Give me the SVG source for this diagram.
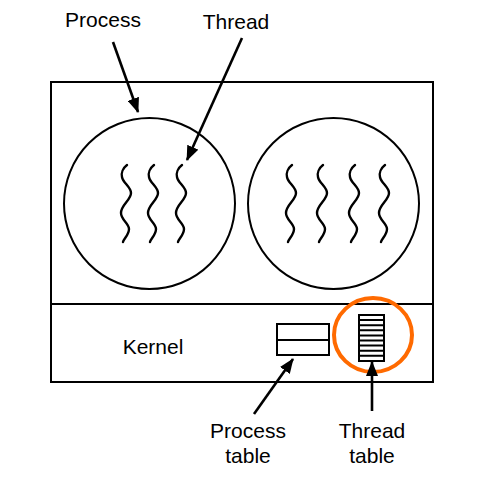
<svg xmlns="http://www.w3.org/2000/svg" xmlns:xlink="http://www.w3.org/1999/xlink" width="489" height="482" viewBox="0 0 489 482">
<style>
.ln{fill:none;stroke:#000;stroke-width:2}
.ar{fill:none;stroke:#000;stroke-width:2.6}
.sq{fill:none;stroke:#000;stroke-width:2.4;stroke-linecap:round}
.t{font-family:"Liberation Sans",Arial,sans-serif;font-size:21px;fill:#000;text-anchor:middle}
</style>
<defs>
<marker id="ah" markerUnits="userSpaceOnUse" markerWidth="16" markerHeight="12" refX="14" refY="6" orient="auto">
<path d="M0,0 L15,6 L0,12 Z" fill="#000"/>
</marker>
<path id="wave" class="sq" d="M1,0 C-3,3 -5,8 -4,12 C-3,18 5,22 5,28 C5,35 -5,40 -5,48 C-5,55 3,58 3,64 C3,70 -2,73 -3,77"/>
</defs>
<g id="frame">
<rect class="ln" x="51" y="82" width="382" height="300"/>
<line class="ln" x1="51" y1="304" x2="433" y2="304"/>
</g>
<g id="process1">
<circle class="ln" cx="149.5" cy="203.5" r="85.5"/>
<use xlink:href="#wave" x="126" y="165"/>
<use xlink:href="#wave" x="153" y="165"/>
<use xlink:href="#wave" x="181" y="165"/>
</g>
<g id="process2">
<circle class="ln" cx="333.5" cy="203.5" r="85.5"/>
<use xlink:href="#wave" x="291" y="165"/>
<use xlink:href="#wave" x="322" y="165"/>
<use xlink:href="#wave" x="354" y="165"/>
<use xlink:href="#wave" x="384" y="165"/>
</g>
<g id="kernel">
<text class="t" x="153" y="354">Kernel</text>
</g>
<g id="process-table">
<rect class="ln" x="277" y="324" width="52" height="31"/>
<line class="ln" x1="277" y1="340" x2="329" y2="340"/>
</g>
<g id="thread-table">
<rect class="ln" x="359" y="315" width="25" height="46"/>
<path class="ln" d="M359,320.1H384M359,325.2H384M359,330.3H384M359,335.4H384M359,340.5H384M359,345.6H384M359,350.7H384M359,355.8H384" stroke-width="1.6"/>
</g>
<g id="highlight">
<ellipse cx="373" cy="335" rx="39" ry="37" fill="none" stroke="#ff6a00" stroke-width="4"/>
</g>
<g id="labels">
<text class="t" x="103" y="27">Process</text>
<text class="t" x="236" y="29">Thread</text>
<text class="t" x="248" y="438">Process</text>
<text class="t" x="248" y="463">table</text>
<text class="t" x="372" y="438">Thread</text>
<text class="t" x="372" y="463">table</text>
</g>
<g id="connectors">
<line class="ar" x1="113" y1="42" x2="138" y2="112" marker-end="url(#ah)"/>
<line class="ar" x1="242" y1="38" x2="187" y2="160" marker-end="url(#ah)"/>
<line class="ar" x1="254" y1="414" x2="293" y2="359" marker-end="url(#ah)"/>
<line class="ar" x1="372" y1="411" x2="372" y2="362" marker-end="url(#ah)"/>
</g>
</svg>
